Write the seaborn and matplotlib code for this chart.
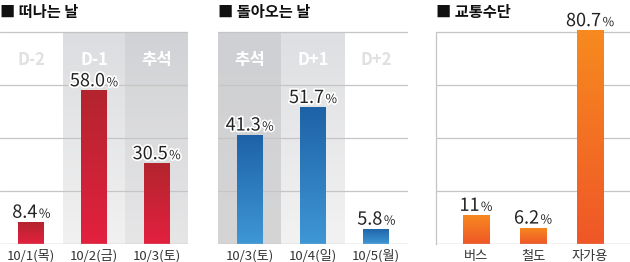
import numpy as np
import matplotlib
matplotlib.use("Agg")
import matplotlib.pyplot as plt
import matplotlib.patheffects as pe
from matplotlib.offsetbox import TextArea, HPacker, AnnotationBbox
from matplotlib.colors import LinearSegmentedColormap
import seaborn as sns

sns.set_theme(style="white")
plt.rcParams['font.family'] = ['Noto Sans CJK KR', 'DejaVu Sans']

# ---- data ----
titles = ["떠나는 날", "돌아오는 날", "교통수단"]
leave_days = ["10/1(목)", "10/2(금)", "10/3(토)"]
leave_vals = [8.4, 58.0, 30.5]
leave_heads = ["D-2", "D-1", "추석"]
return_days = ["10/3(토)", "10/4(일)", "10/5(월)"]
return_vals = [41.3, 51.7, 5.8]
return_heads = ["추석", "D+1", "D+2"]
modes = ["버스", "철도", "자가용"]
mode_vals = [11, 6.2, 80.7]
mode_labels = ["11", "6.2", "80.7"]
leave_labels = ["8.4", "58.0", "30.5"]
return_labels = ["41.3", "51.7", "5.8"]

W, H = 630, 262
fig = plt.figure(figsize=(W / 100, H / 100), dpi=100)
fig.patch.set_facecolor("white")

YTOP = 82
px_per = 212 / 80
ax_h = YTOP * px_per / H
ax_b = (H - 244) / H

specs = [
    dict(left=0, width=188, xlim=(-0.5, 2.5), cats=leave_days, vals=leave_vals,
         labels=leave_labels, heads=leave_heads, bw=0.41,
         bar=("#b3252e", "#e3203f"),
         bands=[None, ("#dcdde0", "#f1f1f1"), ("#d1d2d5", "#e6e6e7")]),
    dict(left=218, width=190, xlim=(-0.5, 2.5), cats=return_days, vals=return_vals,
         labels=return_labels, heads=return_heads, bw=0.41,
         bar=("#1d62a6", "#3f97d5"),
         bands=[("#cfd0d3", "#d5d5d6"), ("#dedfe2", "#f2f2f2"), None]),
    dict(left=436, width=194, xlim=(-0.7, 2.7), cats=modes, vals=mode_vals,
         labels=mode_labels, heads=None, bw=0.456,
         bar=("#f78a1f", "#ef5727"),
         bands=None),
]

stroke = [pe.withStroke(linewidth=2.5, foreground="white")]

for i, s in enumerate(specs):
    ax = fig.add_axes([s["left"] / W, ax_b, s["width"] / W, ax_h])
    ax.set_facecolor("none")
    sns.barplot(x=s["cats"], y=s["vals"], ax=ax, width=s["bw"], color=s["bar"][1],
                edgecolor="none", zorder=3)
    ax.set_xlim(*s["xlim"])
    ax.set_ylim(0, YTOP)

    # background bands
    if s["bands"]:
        for j, b in enumerate(s["bands"]):
            if b is None:
                continue
            cmap = LinearSegmentedColormap.from_list("b", [b[1], b[0]])
            grad = np.linspace(0, 1, 100).reshape(-1, 1)
            ax.imshow(grad, extent=(j - 0.5, j + 0.5, 0, 80), origin="lower",
                      cmap=cmap, aspect="auto", zorder=0, interpolation="bilinear")
        for j, h in enumerate(s["heads"]):
            col = "white" if s["bands"][j] is not None else "#e0e0e0"
            ax.text(j, 69.5, h, ha="center", va="center", fontsize=12,
                    fontweight="bold", color=col, zorder=2)
    ax.set_xlim(*s["xlim"])
    ax.set_ylim(0, YTOP)

    # gridlines
    for g in [20, 40, 60, 80]:
        ax.axhline(g, color="#c5c5c5", lw=0.9, zorder=1)
    ax.axhline(0, color="#bdbdbd", lw=1.0, zorder=4)

    # gradient bars
    cmap = LinearSegmentedColormap.from_list("g", [s["bar"][1], s["bar"][0]])
    for p in ax.patches:
        x0, y0 = p.get_x(), p.get_y()
        w, h = p.get_width(), p.get_height()
        im = ax.imshow(np.linspace(0, 1, 100).reshape(-1, 1),
                       extent=(x0, x0 + w, y0, y0 + h), origin="lower",
                       cmap=cmap, aspect="auto", zorder=3.5, interpolation="bilinear")
        im.set_clip_path(p)
    ax.set_xlim(*s["xlim"])
    ax.set_ylim(0, YTOP)

    # value labels
    for j, (v, lab) in enumerate(zip(s["vals"], s["labels"])):
        num = TextArea(lab, textprops=dict(fontsize=13, color="#222222",
                                           path_effects=stroke))
        pct = TextArea("%", textprops=dict(fontsize=9, color="#222222",
                                           path_effects=stroke))
        box = HPacker(children=[num, pct], align="baseline", pad=0, sep=1)
        ab = AnnotationBbox(box, (j, v), xybox=(0, 0), xycoords="data",
                            boxcoords="offset points", box_alignment=(0.5, 0),
                            frameon=False, zorder=6, annotation_clip=False)
        ax.add_artist(ab)

    sns.despine(ax=ax, left=True, bottom=True, top=True, right=True)
    if i == 2:
        ax.spines["left"].set_visible(True)
        ax.spines["left"].set_color("#c5c5c5")
        ax.spines["left"].set_linewidth(0.9)
        ax.spines["left"].set_bounds(0, 80)
    ax.set_yticks([])
    ax.tick_params(axis="x", length=0, pad=4, labelsize=9.5, labelcolor="#333333")
    ax.grid(False)

    fig.text(s["left"] / W, 1 - 12 / H, "■ " + titles[i], ha="left", va="center",
             fontsize=11, fontweight="bold", color="#111111")

fig.savefig("out.png", dpi=100, facecolor="white")
